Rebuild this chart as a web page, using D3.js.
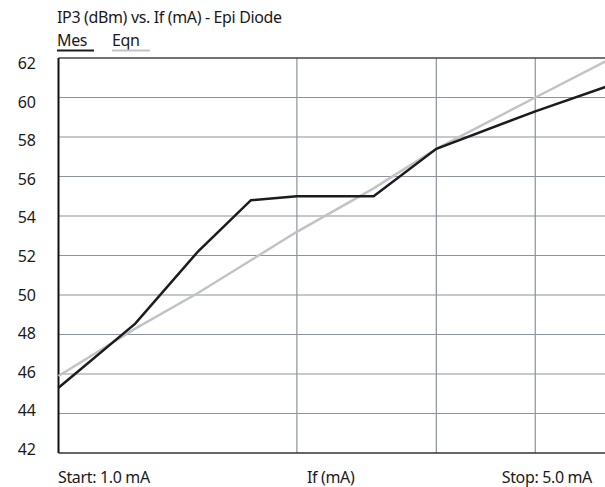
<!DOCTYPE html>
<html>
<head>
<meta charset="utf-8">
<script src="https://cdn.jsdelivr.net/npm/d3@7"></script>
<style>
  body { margin: 0; background: #fff; overflow: hidden; }
  svg { display: block; }
  text { font-family: "Noto Sans", "Open Sans", sans-serif; fill: #1a1a1a; }
</style>
</head>
<body>
<div id="chart"></div>
<script>
// If (mA) sample points and measured / equation IP3 (dBm)
const currents = [1, 1.25, 1.5, 1.75, 2, 2.5, 3, 4, 5];
const mesValues = [45.3, 48.55, 52.2, 54.8, 55.0, 55.0, 57.4, 59.3, 60.65];
const eqnCurrents = [1, 1.25, 1.5, 2, 2.5, 3, 4, 5];
const eqnValues = [45.9, 48.3, 50.1, 53.2, 55.4, 57.4, 60.0, 62.0];
const yTicks = [42, 44, 46, 48, 50, 52, 54, 56, 58, 60, 62];
const xGrid = [2, 3, 4];

const width = 605, height = 487;
// the plot runs a little past the right edge of the picture
const plot = { left: 58.5, right: 612, top: 58, bottom: 453 };

const svg = d3.select("#chart").append("svg")
  .attr("width", width)
  .attr("height", height);

const x = d3.scaleLog().domain([1, 5]).range([plot.left, plot.right]);
const y = d3.scaleLinear().domain([42, 62]).range([plot.bottom, plot.top]);
// tick labels sit on a slightly tighter spacing than the grid
const yLabel = d3.scaleLinear().domain([42, 62]).range([449, 63.5]);

// grid
svg.append("g")
  .selectAll("line")
  .data(yTicks.filter(d => d > 42 && d < 62))
  .join("line")
  .attr("x1", plot.left).attr("x2", plot.right)
  .attr("y1", d => y(d)).attr("y2", d => y(d))
  .attr("stroke", "#8c939c").attr("stroke-width", 1.2);

svg.append("g")
  .selectAll("line")
  .data(xGrid)
  .join("line")
  .attr("x1", d => x(d)).attr("x2", d => x(d))
  .attr("y1", plot.top).attr("y2", plot.bottom)
  .attr("stroke", "#8c939c").attr("stroke-width", 1.2);

// frame
svg.append("line")
  .attr("x1", plot.left).attr("x2", plot.right)
  .attr("y1", plot.top).attr("y2", plot.top)
  .attr("stroke", "#444").attr("stroke-width", 1.5);
svg.append("line")
  .attr("x1", plot.left).attr("x2", plot.right)
  .attr("y1", plot.bottom).attr("y2", plot.bottom)
  .attr("stroke", "#333").attr("stroke-width", 1.5);
svg.append("line")
  .attr("x1", plot.left).attr("x2", plot.left)
  .attr("y1", plot.top).attr("y2", plot.bottom)
  .attr("stroke", "#111").attr("stroke-width", 2);

// y labels
svg.append("g")
  .selectAll("text")
  .data(yTicks)
  .join("text")
  .attr("x", 36)
  .attr("y", d => yLabel(d))
  .attr("dy", "0.36em")
  .attr("text-anchor", "end")
  .style("font-size", "16px")
  .text(d => d);

// lines
const line = d3.line().x(d => x(d[0])).y(d => y(d[1]));

svg.append("path")
  .datum(d3.zip(eqnCurrents, eqnValues))
  .attr("d", line)
  .attr("fill", "none")
  .attr("stroke", "#c2c3c7")
  .attr("stroke-width", 2.5);

svg.append("path")
  .datum(d3.zip(currents, mesValues))
  .attr("d", line)
  .attr("fill", "none")
  .attr("stroke", "#1c1c1c")
  .attr("stroke-width", 2.5);

// title + legend
svg.append("text")
  .attr("x", 57).attr("y", 23)
  .style("font-size", "16px")
  .style("letter-spacing", "-0.35px")
  .text("IP3 (dBm) vs. If (mA) - Epi Diode");

const legend = [
  { name: "Mes", x: 57, w: 37, color: "#1c1c1c" },
  { name: "Eqn", x: 112, w: 38, color: "#c2c3c7" }
];
legend.forEach(l => {
  svg.append("text")
    .attr("x", l.x).attr("y", 46)
    .style("font-size", "16px")
    .style("letter-spacing", "-0.35px")
    .text(l.name);
  svg.append("line")
    .attr("x1", l.x).attr("x2", l.x + l.w)
    .attr("y1", 50.5).attr("y2", 50.5)
    .attr("stroke", l.color).attr("stroke-width", 2);
});

// bottom labels
const bottom = [
  { text: "Start: 1.0 mA", x: 58, anchor: "start" },
  { text: "If (mA)", x: 307, anchor: "start" },
  { text: "Stop: 5.0 mA", x: 592, anchor: "end" }
];
svg.append("g")
  .selectAll("text")
  .data(bottom)
  .join("text")
  .attr("x", d => d.x)
  .attr("y", 483)
  .attr("text-anchor", d => d.anchor)
  .style("font-size", "16px")
  .style("letter-spacing", "-0.35px")
  .text(d => d.text);
</script>
</body>
</html>
